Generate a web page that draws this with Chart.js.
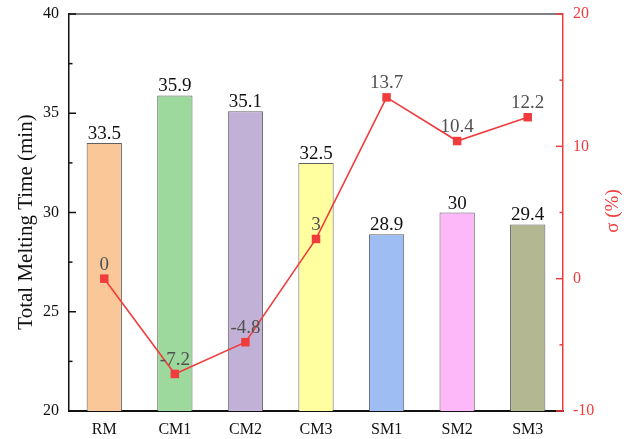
<!DOCTYPE html>
<html>
<head>
<meta charset="utf-8">
<title>Total Melting Time</title>
<script src="https://cdn.jsdelivr.net/npm/chart.js@4/dist/chart.umd.min.js"></script>
<style>
  html, body { margin: 0; padding: 0; background: #fff; }
  #wrap { width: 640px; height: 439px; }
</style>
</head>
<body>
<div id="wrap"><canvas id="meltChart" width="640" height="439"></canvas></div>
<script>
const categories = ["RM", "CM1", "CM2", "CM3", "SM1", "SM2", "SM3"];
const meltTimes = [33.5, 35.9, 35.1, 32.5, 28.9, 30, 29.4];
const sigmaValues = [0, -7.2, -4.8, 3, 13.7, 10.4, 12.2];
const barColors = ["#fac898", "#9dd89d", "#c1b1d6", "#ffff9f", "#9dbdf3", "#fdb8fa", "#b3b792"];
const leftMajor = [20, 25, 30, 35, 40];
const leftMinor = [22.5, 27.5, 32.5, 37.5];
const rightMajor = [-10, 0, 10, 20];
const rightMinor = [-5, 5, 15];

const FONT = '"Liberation Serif", "Times New Roman", serif';
const RED = "#f03c3c";

// value labels, inward ticks, top frame line and axis titles
const decorations = {
  id: "decorations",
  afterDatasetsDraw(chart) {
    const ctx = chart.ctx;
    ctx.save();
    ctx.textAlign = "center";
    ctx.textBaseline = "alphabetic";
    ctx.font = "19px " + FONT;

    ctx.fillStyle = "#111";
    chart.getDatasetMeta(0).data.forEach((el, i) => {
      ctx.fillText(String(meltTimes[i]), el.x, el.y - 4);
    });

    ctx.fillStyle = "#505050";
    chart.getDatasetMeta(1).data.forEach((el, i) => {
      ctx.fillText(String(sigmaValues[i]), el.x, el.y - 9);
    });
    ctx.restore();
  },
  afterDraw(chart) {
    const ctx = chart.ctx;
    const area = chart.chartArea;
    const yL = chart.scales.y;
    const yR = chart.scales.y1;
    ctx.save();

    // top frame
    ctx.strokeStyle = "#555";
    ctx.lineWidth = 1.5;
    ctx.beginPath();
    ctx.moveTo(area.left, area.top);
    ctx.lineTo(area.right, area.top);
    ctx.stroke();

    const tick = (x, y, len, color) => {
      ctx.strokeStyle = color;
      ctx.lineWidth = 1.5;
      ctx.beginPath();
      ctx.moveTo(x, y);
      ctx.lineTo(x + len, y);
      ctx.stroke();
    };
    leftMajor.forEach(v => tick(area.left, yL.getPixelForValue(v), 7, "#111"));
    leftMinor.forEach(v => tick(area.left, yL.getPixelForValue(v), 3.5, "#111"));
    rightMajor.forEach(v => tick(area.right, yR.getPixelForValue(v), -7, RED));
    rightMinor.forEach(v => tick(area.right, yR.getPixelForValue(v), -3.5, RED));

    // axis titles
    ctx.textAlign = "center";
    ctx.textBaseline = "middle";
    ctx.font = "21px " + FONT;
    ctx.fillStyle = "#111";
    ctx.translate(26, 222);
    ctx.rotate(-Math.PI / 2);
    ctx.fillText("Total Melting Time (min)", 0, 0);
    ctx.setTransform(1, 0, 0, 1, 0, 0);
    ctx.font = "19px " + FONT;
    ctx.fillStyle = RED;
    ctx.translate(613, 211);
    ctx.rotate(-Math.PI / 2);
    ctx.fillText("\u03c3 (%)", 0, 0);
    ctx.restore();
  }
};

const fixSide = (w) => (s) => { s.width = w; s.paddingTop = 0; s.paddingBottom = 0; };

new Chart(document.getElementById("meltChart"), {
  data: {
    labels: categories,
    datasets: [
      {
        type: "bar",
        data: meltTimes,
        yAxisID: "y",
        backgroundColor: barColors,
        borderColor: "#606060",
        borderWidth: 1,
        barPercentage: 0.5,
        categoryPercentage: 1,
        order: 2,
      },
      {
        type: "line",
        data: sigmaValues,
        yAxisID: "y1",
        borderColor: RED,
        borderWidth: 1.6,
        backgroundColor: RED,
        pointStyle: "rect",
        pointRadius: 6,
        pointBorderWidth: 0,
        tension: 0,
        order: 1,
      },
    ],
  },
  options: {
    responsive: false,
    animation: false,
    layout: { padding: { top: 14, left: 0, right: 0, bottom: 0 } },
    plugins: { legend: { display: false }, tooltip: { enabled: false } },
    scales: {
      x: {
        offset: true,
        grid: { drawOnChartArea: false, drawTicks: false },
        border: { color: "#111", width: 2 },
        ticks: { color: "#111", font: { family: FONT, size: 16 }, padding: 9 },
        afterFit: (s) => { s.height = 28; s.paddingLeft = 0; s.paddingRight = 0; },
      },
      y: {
        position: "left",
        min: 20,
        max: 40,
        grid: { drawOnChartArea: false, drawTicks: false },
        border: { color: "#111", width: 1.5 },
        ticks: { stepSize: 5, color: "#111", font: { family: FONT, size: 16 }, padding: 10 },
        afterFit: fixSide(69),
      },
      y1: {
        position: "right",
        min: -10,
        max: 20,
        grid: { drawOnChartArea: false, drawTicks: false },
        border: { color: RED, width: 1.5 },
        ticks: { stepSize: 10, color: RED, font: { family: FONT, size: 16 }, padding: 10 },
        afterFit: fixSide(77),
      },
    },
  },
  plugins: [decorations],
});
</script>
</body>
</html>
